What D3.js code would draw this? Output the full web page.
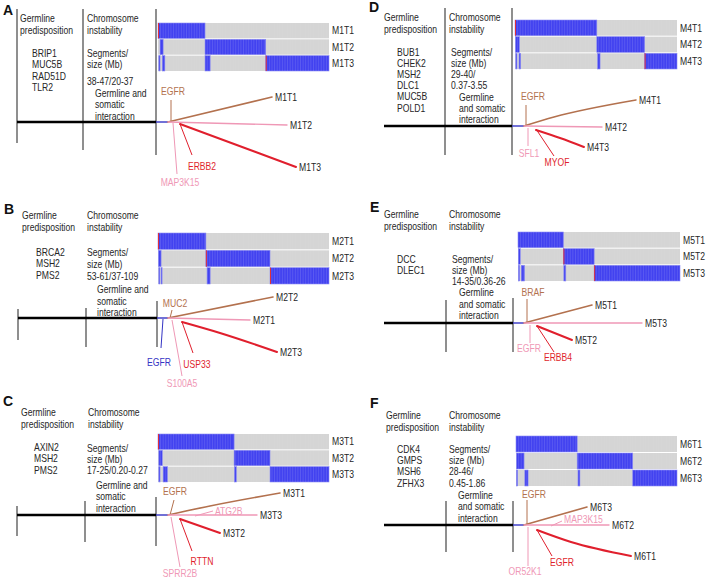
<!DOCTYPE html>
<html><head><meta charset="utf-8">
<script src="https://cdn.jsdelivr.net/npm/d3@7"></script>
<style>html,body{margin:0;padding:0;background:#fff;}svg{display:block;}</style>
</head><body>
<svg id="fig" width="708" height="579"></svg>
<script>
// ---------------- DATA ----------------
const panelLetters = ["A","B","C","D","E","F"];
const germlineGenes = [
  ["BRIP1","MUC5B","RAD51D","TLR2"],
  ["BRCA2","MSH2","PMS2"],
  ["AXIN2","MSH2","PMS2"],
  ["BUB1","CHEK2","MSH2","DLC1","MUC5B","POLD1"],
  ["DCC","DLEC1"],
  ["CDK4","GMPS","MSH6","ZFHX3"]
];
const instabilityText = [
  ["Segments/","size (Mb)","38-47/20-37"],
  ["Segments/","size (Mb)","53-61/37-109"],
  ["Segments/","size (Mb)","17-25/0.20-0.27"],
  ["Segments/","size (Mb)","29-40/","0.37-3.55"],
  ["Segments/","size (Mb)","14-35/0.36-26"],
  ["Segments/","size (Mb)","28-46/","0.45-1.86"]
];
const interactionText = [
  ["Germline and","somatic","interaction"],
  ["Germline and","somatic","interaction"],
  ["Germline and","somatic","interaction"],
  ["Germline","and somatic","interaction"],
  ["Germline","and somatic","interaction"],
  ["Germline","and somatic","interaction"]
];
const tumorNames = [
  ["M1T1","M1T2","M1T3"],
  ["M2T1","M2T2","M2T3"],
  ["M3T1","M3T2","M3T3"],
  ["M4T1","M4T2","M4T3"],
  ["M5T1","M5T2","M5T3"],
  ["M6T1","M6T2","M6T3"]
];
// copy-number blocks per panel, per tumour row: [start, end] as fraction of genome
const cnaBlocks = [
  [[[0,0.275]], [[0.012,0.03],[0.275,0.63]], [[0.005,0.012],[0.025,0.04],[0.275,0.305],[0.63,1]]],
  [[[0,0.28]], [[0.003,0.018],[0.28,0.655]], [[0.005,0.01],[0.018,0.023],[0.287,0.305],[0.655,1]]],
  [[[0,0.445]], [[0.005,0.025],[0.445,0.655]], [[0.005,0.012],[0.03,0.055],[0.447,0.458],[0.655,1]]],
  [[[0,0.505]], [[0.003,0.027],[0.505,0.80]], [[0.005,0.012],[0.025,0.035],[0.51,0.525],[0.80,1]]],
  [[[0,0.28]], [[0.002,0.014],[0.28,0.47]], [[0.003,0.01],[0.02,0.04],[0.283,0.295],[0.47,1]]],
  [[[0,0.38]], [[0.003,0.05],[0.38,0.725]], [[0.003,0.01],[0.055,0.075],[0.385,0.397],[0.725,1]]]
];
// breakpoint marks (red) per panel: [row index, fraction]
const breakMarks = [
  [[0,0],[2,0.63]],
  [[0,0],[1,0.28],[2,0.655]],
  [[0,0]],
  [[0,0],[2,0.80]],
  [[1,0.28],[2,0.47]],
  []
];
// phylogenetic branches, relative to the trunk node: [tumour, colour, points]
const treeBranches = [
  [["M1T1","brown",[[0,0],[104,-25]]], ["M1T2","pink",[[0,0],[119,3]]], ["M1T3","red",[[12,2],[128,45]]]],
  [["M2T2","brown",[[0,0],[105,-21]]], ["M2T1","pink",[[0,0],[82,2]]], ["M2T3","red",[[14,4],[52,15],[109,34]]]],
  [["M3T1","brown",[[0,0],[42,-9],[112,-22]]], ["M3T3","pink",[[0,0],[89,0]]], ["M3T2","red",[[12,4],[52,18]]]],
  [["M4T1","brown",[[0,0],[30,-9],[112,-26]]], ["M4T2","pink",[[0,0],[78,1]]], ["M4T3","red",[[12,4],[36,12],[60,21]]]],
  [["M5T1","brown",[[0,0],[68,-18]]], ["M5T3","pink",[[0,0],[118,0]]], ["M5T2","red",[[13,3],[48,17]]]],
  [["M6T3","brown",[[0,0],[63,-18]]], ["M6T2","pink",[[0,0],[85,0]]], ["M6T1","red",[[13,5],[47,17],[107,31]]]]
];
// driver-gene annotations: [gene, colour, stem start, stem end, label position, anchor]
const geneMarks = [
  [["EGFR","brown",[3,0],[3,-22],[5,-31],"middle"], ["ERBB2","red",[12,2],[24,33],[34,44],"middle"], ["MAP3K15","pink",[5,1],[9,52],[12,60],"middle"]],
  [["MUC2","brown",[2,0],[4,-8],[7,-15],"middle"], ["EGFR","blue",[-5,1],[-7,30],[-9,44],"middle"], ["USP33","red",[14,4],[25,35],[29,46],"middle"], ["S100A5","pink",[4,2],[14,58],[14,65],"middle"]],
  [["EGFR","brown",[2,0],[6,-15],[7,-24],"middle"], ["ATG2B","pink",[27,1],[45,-4],[47,-4],"start"], ["RTTN","red",[12,4],[24,36],[34,46],"middle"], ["SPRR2B","pink",[3,2],[12,52],[12,58],"middle"]],
  [["EGFR","brown",[2,-1],[2,-21],[9,-30],"middle"], ["SFL1","pink",[4,2],[4,20],[5,27],"middle"], ["MYOF","red",[12,3],[30,30],[33,36],"middle"]],
  [["BRAF","brown",[3,-1],[3,-24],[9,-31],"middle"], ["EGFR","pink",[6,2],[6,20],[5,25],"middle"], ["ERBB4","red",[13,3],[30,29],[34,34],"middle"]],
  [["EGFR","brown",[3,-1],[3,-25],[10,-31],"middle"], ["MAP3K15","pink",[27,1],[38,-4],[40,-6],"start"], ["EGFR","red",[13,5],[28,31],[38,37],"middle"], ["OR52K1","pink",[4,2],[4,41],[1,46],"middle"]]
];

// ---------------- LAYOUT ----------------
const layout = [
  {letter:[3,15], title:[20,87,18.5], genes:[32,53,11.5], seg:[87,[53,64.5,81.5]], inter:[95,[93,104.5,116]],
   vlines:[[17,9,143],[83,9,150],[156,9,155]], trunk:[17,156,168,122], heat:[158,329,23,71]},
  {letter:[4,214], title:[22,87,215], genes:[36,252,11.5], seg:[87,[252,264,276]], inter:[97,[289,301,312]],
   vlines:[[18,309,340],[86,308,347],[157,301,347]], trunk:[18,157,168,318], heat:[158,329,233,284]},
  {letter:[3,406], title:[21,88,412], genes:[34,447,11.5], seg:[87,[448,459,470]], inter:[96,[485,496,508]],
   vlines:[[17,506,536],[85,501,542],[156,497,546]], trunk:[17,156,168,515], heat:[158,329,434,482]},
  {letter:[369,12], title:[384,449,17], genes:[397,52,11.2], seg:[451,[52,63,74,85.5]], inter:[459,[97,108,119]],
   vlines:[[445,8,155],[512,8,155]], trunk:[384,512,524,126], heat:[515,677,20,69]},
  {letter:[370,212], title:[384,449,214], genes:[397,259.5,11], seg:[452,[259,270,281]], inter:[459,[292.5,304,315.5]],
   vlines:[[446,300,352],[513,298,352]], trunk:[384,513,524,323], heat:[518,680,232,281]},
  {letter:[370,408], title:[386,449,415], genes:[397,449,11.3], seg:[449,[449,460,471.5,483.5]], inter:[458,[495,506.5,518]],
   vlines:[[446,501,552],[513,501,552]], trunk:[384,513,524,525], heat:[516,677,436,486]}
];
const colors = {brown:"#b3714e", pink:"#ef98b6", red:"#e01f2d", blue:"#3434c4"};
const lineW = {brown:1.6, pink:1.4, red:2.0, blue:1.2};
const textCol = "#262626";
const heatBlue = "#4242f0", heatGray = "#d5d5d5";

// ---------------- DRAW ----------------
const svg = d3.select("#fig");
// check condensed font
const probe = svg.append("text").style("font-family","'Liberation Sans Narrow'").style("font-size","100px").text("MMMMMMMM");
const wN = probe.node().getComputedTextLength();
probe.style("font-family","'Liberation Sans'");
const wR = probe.node().getComputedTextLength();
probe.remove();
const narrow = wN < wR * 0.9;
const fam = narrow ? "'Liberation Sans Narrow', 'Arial Narrow', sans-serif" : "'Liberation Sans', Arial, sans-serif";
const sx = narrow ? 1 : 0.82;
const FS = 10.5;

function txt(g, x, y, s, anchor, color, size) {
  return g.append("text")
    .attr("transform", `translate(${x},${y}) scale(${sx},1)`)
    .attr("dy","0.35em")
    .attr("text-anchor", anchor || "start")
    .style("font-family", fam)
    .style("font-size", (size || FS) + "px")
    .attr("fill", color || textCol)
    .text(s);
}

panelLetters.forEach((L, p) => {
  const lay = layout[p];
  const g = svg.append("g");

  // panel letter
  g.append("text").attr("x", lay.letter[0]).attr("y", lay.letter[1])
    .style("font-family","'Liberation Sans', Arial, sans-serif").style("font-weight","bold")
    .style("font-size","14px").attr("fill","#111").text(L);

  // column titles
  txt(g, lay.title[0], lay.title[2], "Germline");
  txt(g, lay.title[0], lay.title[2] + 12, "predisposition");
  txt(g, lay.title[1], lay.title[2], "Chromosome");
  txt(g, lay.title[1], lay.title[2] + 12, "instability");

  // germline genes
  const gy = d3.scaleLinear().domain([0,1]).range([lay.genes[1], lay.genes[1] + lay.genes[2]]);
  germlineGenes[p].forEach((s, i) => txt(g, lay.genes[0], gy(i), s));

  // instability text
  instabilityText[p].forEach((s, i) => txt(g, lay.seg[0], lay.seg[1][i], s));
  interactionText[p].forEach((s, i) => txt(g, lay.inter[0], lay.inter[1][i], s));

  // vertical guide lines
  lay.vlines.forEach(v => g.append("line").attr("x1", v[0]).attr("x2", v[0]).attr("y1", v[1]).attr("y2", v[2])
    .attr("stroke","#333").attr("stroke-width",1.1));

  // heatmap
  const [hx0, hx1, hy0, hy1] = lay.heat;
  const hx = d3.scaleLinear().domain([0,1]).range([hx0, hx1]);
  const hy = d3.scaleBand().domain(tumorNames[p]).range([hy0, hy1]).paddingInner(0.06);
  const hg = g.append("g");
  const ncol = Math.round((hx1 - hx0) / 2.6);
  const cs = d3.scaleLinear().domain([0, ncol]).range([hx0, hx1]);
  tumorNames[p].forEach((t, r) => {
    hg.append("rect").attr("x", hx(0)).attr("y", hy(t)).attr("width", hx(1) - hx(0)).attr("height", hy.bandwidth())
      .attr("fill", heatGray);
    cnaBlocks[p][r].forEach(b => {
      const x0 = hx(b[0]), x1 = hx(b[0]) + Math.max(1, hx(b[1]) - hx(b[0]));
      hg.append("rect").attr("x", x0).attr("y", hy(t)).attr("width", x1 - x0)
        .attr("height", hy.bandwidth()).attr("fill", heatBlue).attr("stroke","#8a8af6").attr("stroke-width",0.6);
      // column stripes inside blue segments
      hg.selectAll(null).data(d3.range(1, ncol).filter(k => cs(k) > x0 + 1 && cs(k) < x1 - 1)).join("line")
        .attr("x1", k => cs(k)).attr("x2", k => cs(k)).attr("y1", hy(t)).attr("y2", hy(t) + hy.bandwidth())
        .attr("stroke","#ffffff").attr("stroke-opacity",0.14).attr("stroke-width",0.7);
    });
    txt(g, hx(1) + 3, hy(t) + hy.bandwidth()/2, t);
  });
  // faint stripes over gray background
  hg.selectAll("line.col").data(d3.range(1, ncol)).join("line").attr("class","col")
    .attr("x1", d => cs(d)).attr("x2", d => cs(d)).attr("y1", hy0).attr("y2", hy1)
    .attr("stroke","#ffffff").attr("stroke-opacity",0.06).attr("stroke-width",0.7);
  breakMarks[p].forEach(m => {
    const t = tumorNames[p][m[0]];
    hg.append("line").attr("x1", hx(m[1]) + 0.5).attr("x2", hx(m[1]) + 0.5)
      .attr("y1", hy(t)).attr("y2", hy(t) + hy.bandwidth()).attr("stroke","#e0303a").attr("stroke-width",1);
  });

  // trunk
  const [tx0, tx1, nx, ty] = lay.trunk;
  g.append("line").attr("x1", tx0).attr("x2", tx1).attr("y1", ty).attr("y2", ty)
    .attr("stroke","#000").attr("stroke-width",2.6);
  g.append("line").attr("x1", tx1).attr("x2", nx).attr("y1", ty).attr("y2", ty)
    .attr("stroke", colors.blue).attr("stroke-width",1.4);

  // tree scales (relative to the node)
  const X = d3.scaleLinear().domain([0,100]).range([nx, nx + 100]);
  const Y = d3.scaleLinear().domain([0,100]).range([ty, ty + 100]);
  const lineGen = d3.line().x(d => X(d[0])).y(d => Y(d[1])).curve(d3.curveMonotoneX);

  // gene stems
  geneMarks[p].forEach(m => {
    const [gene, col, a, b, lp, anc] = m;
    g.append("line").attr("x1", X(a[0])).attr("y1", Y(a[1])).attr("x2", X(b[0])).attr("y2", Y(b[1]))
      .attr("stroke", colors[col]).attr("stroke-width", 1);
    txt(g, X(lp[0]), Y(lp[1]), gene, anc, colors[col]);
  });
  // branches
  treeBranches[p].forEach(br => {
    const [t, col, pts] = br;
    g.append("path").attr("d", lineGen(pts)).attr("fill","none")
      .attr("stroke", colors[col]).attr("stroke-width", lineW[col]).attr("stroke-linecap","round");
    const e = pts[pts.length - 1];
    txt(g, X(e[0]) + 3, Y(e[1]), t);
  });
});
</script>
</body></html>
